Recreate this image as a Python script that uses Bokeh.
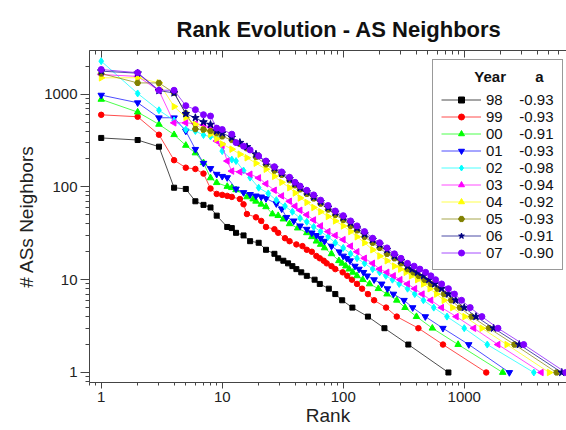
from math import pi
from bokeh.plotting import figure
from bokeh.models import (Range1d, LogAxis, FixedTicker, CustomJSTickFormatter,
                          Legend, LegendItem)
from bokeh.embed import file_html
from bokeh.resources import INLINE

FONT = "Liberation Sans"
NB = "\u00a0"

years = ["98", "99", "00", "01", "02", "03", "04", "05", "06", "07"]
slopes = ["-0.93", "-0.93", "-0.91", "-0.93", "-0.98", "-0.94", "-0.92", "-0.93", "-0.91", "-0.90"]

rank_98 = [1,2,3,4,5,6,7,8,9,11,12,13,15,17,20,23,27,29,32,35,38,41,45,50,58,64,76,86,98,119,160,219,345,740]
deg_98 = [337,320,271,98,95,70,64,60,49,37,36,32,30,26,25,21,19,17,16,15,14,13,12,11,10,9,8,7,6,5,4,3,2,1]

rank_99 = [1,2,3,4,5,6,7,8,9,10,11,12,14,15,16,19,21,23,27,29,33,36,41,46,50,55,60,64,69,73,80,86,99,108,118,130,143,160,180,226,277,418,667,1520]
deg_99 = [598,570,365,194,161,156,139,96,84,82,80,78,74,65,51,47,43,37,35,32,28,26,24,23,21,20,18,17,16,15,14,13,12,11,10,9,8,7,6,5,4,3,2,1]

rank_00 = [1,2,3,4,5,6,7,8,9,11,12,13,16,18,19,21,23,26,29,32,36,42,50,55,60,65,70,80,92,98,105,112,120,130,145,165,195,230,277,324,403,545,890,2080]
deg_00 = [877,640,472,365,280,232,182,125,111,101,98,93,78,74,70,65,61,51,49,45,40,36,32,29,26,24,22,19,16,15,14,13,12,11,10,9,8,7,6,5,4,3,2,1]

rank_01 = [1,2,3,4,5,6,7,8,9,10,11,13,15,17,19,21,23,28,31,34,39,44,50,55,60,65,70,80,93,100,107,114,125,135,147,158,180,208,232,260,318,375,477,667,1090,2360]
deg_01 = [975,807,556,556,400,254,180,158,137,130,126,95,87,83,80,78,75,66,58,47,43,38,35,32,30,28,26,23,20,18,17,16,14,13,12,11,10,9,8,7,6,5,4,3,2,1]

rank_02 = [1,2,3,4,5,6,7,8,9,10,12,13,15,17,20,24,28,33,38,44,50,57,65,75,86,100,115,130,150,175,200,225,255,290,340,390,460,560,720,1000,1550,3760]
deg_02 = [2264,1016,670,520,415,400,362,350,335,243,197,190,150,126,98,85,72,62,54,46,42,37,33,29,25,22,19,17,15,13,12,11,10,9,8,7,6,5,4,3,2,1]

rank_03 = [1,2,3,4,5,6,7,8,9,10,11,12,14,17,20,23,27,31,36,40,44,50,57,65,75,86,100,115,130,150,175,200,230,260,295,340,390,450,530,650,860,1200,1900,4330]
deg_03 = [1625,1550,1090,490,490,480,465,440,312,280,190,148,145,137,125,108,92,80,70,62,56,50,44,38,33,30,27,23,20,17,15,13,12,11,10,9,8,7,6,5,4,3,2,1]

rank_04 = [1,2,3,4,5,6,7,8,9,10,12,14,16,19,23,27,31,36,40,44,50,57,65,75,86,100,115,130,150,175,200,230,265,297,330,365,410,460,520,590,680,800,1010,1400,2250,5040]
deg_04 = [1497,1500,1320,735,560,470,415,370,330,290,255,225,206,180,155,130,112,98,86,76,68,60,54,48,43,38,33,29,25,21,18,16,14,13,12,11,10,9,8,7,6,5,4,3,2,1]

rank_05 = [1,2,3,4,5,6,7,8,9,10,12,14,16,19,23,27,31,36,40,44,50,57,65,75,86,100,115,130,150,175,200,230,265,300,340,380,420,470,530,600,680,780,920,1150,1600,2600,5800]
deg_05 = [1667,1320,1320,1030,620,420,415,400,380,350,320,290,260,210,175,150,135,118,104,94,84,75,66,57,50,44,38,34,29,25,22,19,17,15,13,12,11,10,9,8,7,6,5,4,3,2,1]

rank_06 = [1,2,3,4,5,6,7,8,9,10,12,14,16,19,23,27,31,36,40,44,50,57,65,75,86,100,115,130,150,175,200,230,265,300,340,370,410,460,510,570,650,740,850,1000,1250,1750,2850,6400]
deg_06 = [1766,1680,1090,1030,615,556,500,470,400,380,340,300,270,225,185,160,140,122,108,98,88,78,69,60,53,47,41,36,31,27,24,21,18,16,14,13,12,11,10,9,8,7,6,5,4,3,2,1]

rank_07 = [1,2,3,4,5,6,7,8,9,10,12,13,15,17,20,23,27,31,36,40,44,50,57,65,75,86,100,115,130,150,175,200,230,265,300,340,385,430,480,530,580,650,740,830,950,1120,1400,1900,3100,6900]
deg_07 = [1840,1700,1100,1100,750,680,600,580,430,415,370,300,275,250,215,190,165,145,127,112,102,92,82,72,63,55,49,43,38,33,28,25,22,19,17,15,14,13,12,11,10,9,8,7,6,5,4,3,2,1]

x_ticks = [1, 10, 100, 1000]
y_ticks = [1, 10, 100, 1000]

ranks = [rank_98, rank_99, rank_00, rank_01, rank_02, rank_03, rank_04, rank_05, rank_06, rank_07]
degs = [deg_98, deg_99, deg_00, deg_01, deg_02, deg_03, deg_04, deg_05, deg_06, deg_07]

colors = ["#000000", "#ff0000", "#00ff00", "#0000ff", "#00ffff", "#ff00ff",
          "#ffff00", "#808000", "#000080", "#8000ff"]
markers = ["square", "circle", "triangle", "inverted_triangle", "diamond", "triangle",
           "triangle", "hex", "star", "circle"]
angles = [0, 0, 0, 0, 0, pi / 2, -pi / 2, 0, 0, 0]
sizes = [5, 5.5, 6.5, 6.5, 7, 6.5, 6.5, 6, 8, 6]

minor = [m * 10 ** e for e in range(-1, 4) for m in range(2, 10)]

p = figure(width=566, height=430, x_axis_type="log", y_axis_type="log",
           x_range=Range1d(0.8, 7000), y_range=Range1d(0.78, 2950),
           output_backend="svg", toolbar_location=None,
           min_border_left=89, min_border_right=0, min_border_top=50,
           min_border_bottom=48)
p.outline_line_color = None
p.xgrid.visible = False
p.ygrid.visible = False
p.background_fill_color = "white"
p.border_fill_color = "white"

p.title.text = "Rank Evolution - AS Neighbors"
p.title.align = "left"
p.title.offset = 87
p.title.standoff = 14
p.title.vertical_align = "top"
p.title.text_font = FONT
p.title.text_font_size = "22px"
p.title.text_font_style = "bold"
p.title.text_color = "#111111"

fmt_js = "return tick.toFixed(0);"
for ax, ticks, lab in ((p.xaxis[0], x_ticks, "Rank"), (p.yaxis[0], y_ticks, "# ASs Neighbors")):
    ax.ticker = FixedTicker(ticks=ticks, minor_ticks=minor)
    ax.formatter = CustomJSTickFormatter(code=fmt_js)
    ax.axis_label = lab
    ax.axis_label_text_font = FONT
    ax.axis_label_text_font_size = "19px"
    ax.axis_label_text_font_style = "normal"
    ax.axis_label_text_color = "#222222"
    ax.major_label_text_font = FONT
    ax.major_label_text_font_size = "15px"
    ax.major_label_text_color = "#222222"
    ax.axis_line_color = "#444444"
    ax.major_tick_line_color = "#444444"
    ax.minor_tick_line_color = "#444444"
    ax.major_tick_out = 9
    ax.major_tick_in = 0
    ax.minor_tick_out = 4
    ax.minor_tick_in = 0
    ax.major_label_standoff = 3
    ax.axis_label_standoff = 4
p.xaxis[0].major_tick_out = 6
p.xaxis[0].minor_tick_out = 3
p.xaxis[0].major_label_standoff = 3
p.xaxis[0].axis_label_standoff = 0

top = LogAxis(ticker=FixedTicker(ticks=x_ticks, minor_ticks=minor),
              formatter=CustomJSTickFormatter(code="return '';"),
              major_tick_in=7, major_tick_out=0, minor_tick_in=4, minor_tick_out=0,
              major_label_text_font_size="1px", major_label_standoff=0,
              axis_line_color="#444444",
              major_tick_line_color="#444444", minor_tick_line_color="#444444")
p.add_layout(top, "above")

items = []
for i in range(len(years)):
    lr = p.line(ranks[i], degs[i], line_color=colors[i], line_width=1, line_alpha=0.7)
    sr = p.scatter(ranks[i], degs[i], marker=markers[i], size=sizes[i], angle=angles[i],
                   fill_color=colors[i], line_color=colors[i])
    items.append(LegendItem(label=years[i] + NB * 4 + slopes[i], renderers=[lr, sr]))

legend = Legend(items=items, location=(343, 112),
                title=NB * 8 + "Year" + NB * 7 + "a",
                title_text_font=FONT, title_text_font_size="15px",
                title_text_font_style="bold", title_text_color="#111111",
                title_standoff=6,
                label_text_font=FONT, label_text_font_size="15px",
                label_text_color="#111111",
                glyph_width=40, glyph_height=15, label_height=15, spacing=0,
                padding=8, label_standoff=5, margin=0,
                border_line_color="#333333", border_line_width=1,
                background_fill_color="white", background_fill_alpha=1)
p.add_layout(legend)

open("out.html", "w").write(file_html(p, INLINE))
